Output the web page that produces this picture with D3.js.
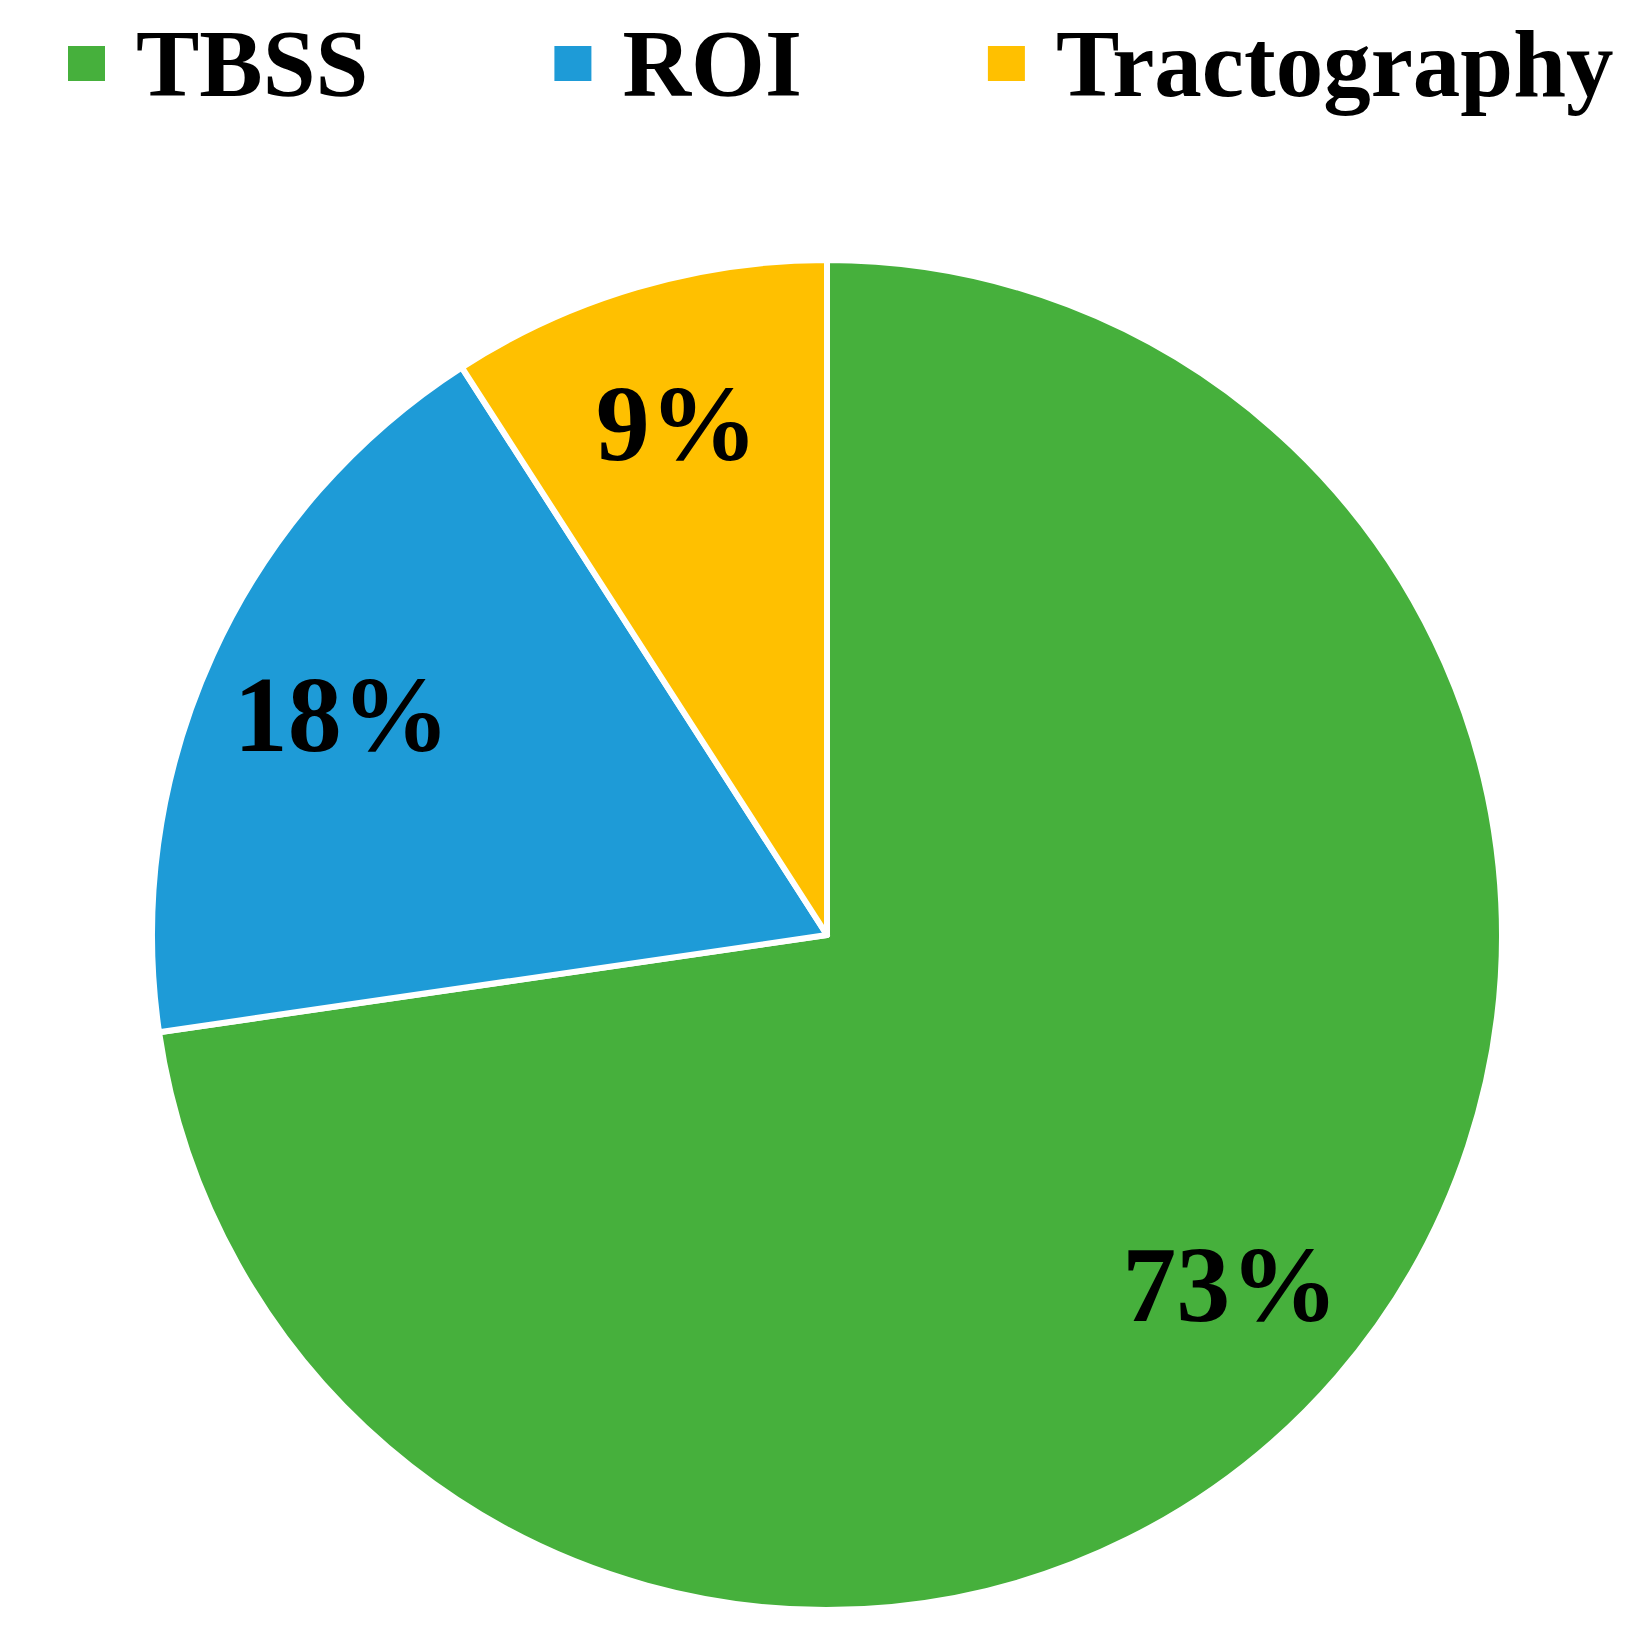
<!DOCTYPE html>
<html>
<head>
<meta charset="utf-8">
<script src="https://cdn.jsdelivr.net/npm/d3@7"></script>
<style>
  html, body { margin: 0; padding: 0; background: #fff; }
  svg { display: block; }
  text { font-family: "Liberation Serif", "Times New Roman", Times, serif; font-weight: bold; }
</style>
</head>
<body>
<svg id="chart" width="1636" height="1636"></svg>
<script>
const categories = ["TBSS", "ROI", "Tractography"];
const values = [72.7, 18.2, 9.1];
const labels = ["73%", "18%", "9%"];
const colors = ["#46B03C", "#1E9BD7", "#FFC000"];

const W = 1636, H = 1636;
const cx = 827, cy = 935, R = 675;

const svg = d3.select("#chart");
const data = categories.map((c, i) => ({ name: c, value: values[i], label: labels[i], color: colors[i] }));

const pie = d3.pie().value(d => d.value).sort(null).startAngle(0).endAngle(2 * Math.PI);
const arc = d3.arc().innerRadius(0).outerRadius(R);
const labelR = 0.79 * R;

const g = svg.append("g").attr("transform", `translate(${cx},${cy})`);
const arcs = pie(data);

g.selectAll("path.slice")
  .data(arcs)
  .join("path")
  .attr("class", "slice")
  .attr("d", arc)
  .attr("fill", d => d.data.color)
  .attr("stroke", "#fff")
  .attr("stroke-width", 6)
  .attr("stroke-linejoin", "round");

g.selectAll("text.lbl")
  .data(arcs)
  .join("text")
  .attr("class", "lbl")
  .attr("x", d => Math.sin((d.startAngle + d.endAngle) / 2) * labelR)
  .attr("y", d => -Math.cos((d.startAngle + d.endAngle) / 2) * labelR)
  .attr("dy", "0.34em")
  .attr("text-anchor", "middle")
  .attr("font-size", 108)
  .attr("fill", "#000")
  .text(d => d.data.label);

// Legend
const legend = svg.append("g");
const sq = 37, gapText = 31, gapItem = 186;
let x = 68;
data.forEach(d => {
  legend.append("rect")
    .attr("x", x).attr("y", 46)
    .attr("width", sq).attr("height", 35)
    .attr("fill", d.color);
  const t = legend.append("text")
    .attr("x", x + sq + gapText)
    .attr("y", 96)
    .attr("font-size", 95)
    .attr("fill", "#000")
    .text(d.name);
  const w = t.node().getComputedTextLength();
  x = x + sq + gapText + w + gapItem;
});
</script>
</body>
</html>
